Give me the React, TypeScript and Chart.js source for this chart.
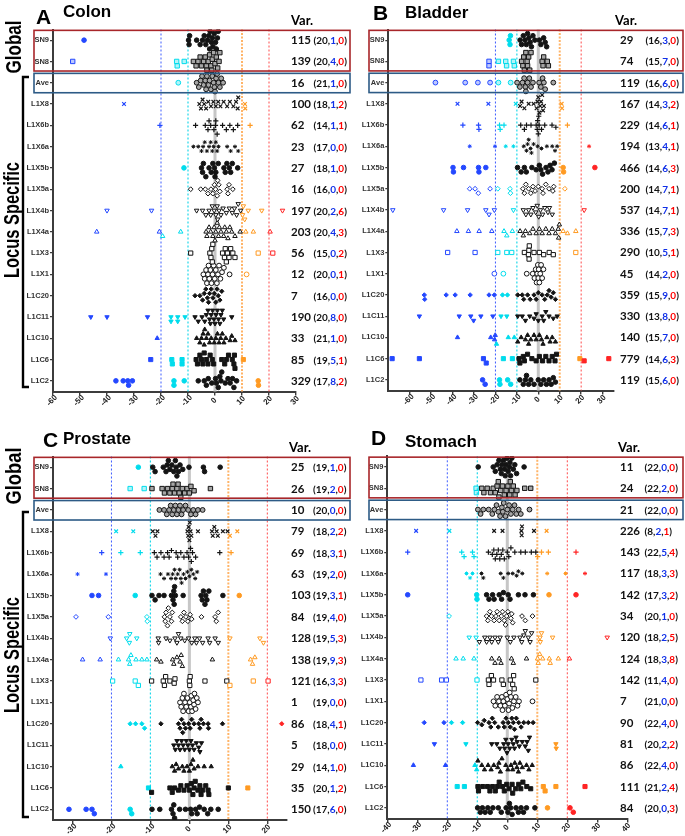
import React, { useEffect, useRef } from "react";
import { Chart, registerables } from "chart.js";
Chart.register(...registerables);

const rowLabels = ["SN9", "SN8", "Ave", "L1X8", "L1X6b", "L1X6a", "L1X5b", "L1X5a", "L1X4b", "L1X4a", "L1X3", "L1X1", "L1C20", "L1C11", "L1C10", "L1C6", "L1C2"];

const colonTicks = [-60, -50, -40, -30, -20, -10, 0, 10, 20, 30];
const bladderTicks = [-60, -50, -40, -30, -20, -10, 0, 10, 20, 30];
const prostateTicks = [-30, -20, -10, 0, 10, 20];
const stomachTicks = [-40, -30, -20, -10, 0, 10, 20, 30, 40];

const colonValues: number[][] = [
  [-48.5, -9.8, -9.6, -9.4, -6.8, -5.5, -4.6, -4, -3.4, -2.8, -2.3, -2, -1.8, -1.3, -1, -0.8, -0.3, 0.2, 0.5, 0.9, 1.2],
  [-52.7, -14.2, -14, -11.4, -8, -7, -6.3, -5.5, -5, -4.2, -3.6, -3.2, -3, -2.5, -2, -1.5, -1.2, -1, -0.5, 0, 0.5, 1, 1.5, 1.8],
  [-13.6, -6.8, -6, -5.3, -4.8, -4.2, -3.6, -3.3, -3, -2.4, -2, -1.5, -1, -0.5, -0.2, 0, 0.4, 0.8, 1.3, 1.8, 2.3, 3],
  [-33.7, -5.8, -5.2, -4.6, -4, -3.3, -2.5, -1.5, -0.6, 0.3, 1.2, 2, 3.2, 4.5, 5.5, 6.8, 7.8, 8.4, 8.6, 11.1, 11.2],
  [-20.4, -7.2, -3.6, -2.6, -2.2, -1.6, -0.4, 0.2, 0.3, 0.8, 2.8, 4.2, 5.5, 6.8, 8.4, 13],
  [-8, -6.2, -5, -4.4, -3.8, -3, -2.2, -1.6, -1, -0.5, 0.3, 0.8, 1.3, 4.5, 5.8, 7.4, 8.6],
  [-11.5, -5, -4.6, -4.3, -3.4, -2.2, -1.4, -0.8, -0.2, 0, 0.3, 1.2, 3.3, 3.8, 4.4, 5.3, 5.8, 6.4, 8.4],
  [-9, -5.3, -3.6, -2.6, -1.5, -0.8, -0.2, 0.2, 0.8, 1, 1.4, 1.8, 4.5, 4.8, 5.2, 6.6],
  [-40, -23.5, -6.8, -4.6, -3.4, -2.2, -1.6, -1, -0.3, 0.3, 0.8, 1, 1.5, 2.2, 3, 4.2, 5.3, 6.4, 7.2, 8, 8.6, 9.5, 10.2, 10.5, 11, 12.3, 17.3, 25],
  [-43.8, -20.6, -19.4, -12.7, -3.3, -3, -2.2, -1.6, -0.8, -0.3, 0, 0.3, 0.8, 1.3, 1.6, 2.2, 3.2, 3.6, 4.2, 4.8, 5.5, 6.2, 7.4, 9.3, 11.4, 14.2, 20.4],
  [-9, -1.9, -1.5, -1.2, -1, -0.8, 2.8, 3.5, 3.8, 4.2, 4.6, 5.2, 5.8, 6.6, 7.4, 16, 21.4],
  [-4.3, -3.8, -3.3, -3, -2.6, -2.4, -2.1, -1.7, -1.3, -0.9, -0.5, -0.1, 0.3, 0.7, 1.1, 1.5, 2, 2.6, 3.3, 5.4, 11.7],
  [-7.4, -5.6, -4.6, -4, -3.4, -2.8, -2.4, -2, -1.4, -0.8, -0.3, 0.3, 0.8, 1.2, 1.8, 2.5],
  [-46, -40, -25, -16.3, -16.3, -13.8, -13.8, -11.1, -7.4, -6.2, -4.8, -3.8, -3.2, -2.6, -2, -1.7, -1.4, -0.9, -0.4, 0, 0.4, 0.9, 1.3, 1.8, 2.2, 2.7, 3.2, 6.2],
  [-21.4, -6.8, -5.6, -5, -4.4, -4, -3.8, -3.2, -2.6, -2, -1.4, -0.3, 0.3, 0.9, 1.5, 2.1, 2.7, 3.3, 4, 5.6, 6.2, 7.4],
  [-23.8, -16, -15.8, -12.2, -12.2, -7, -6.5, -5.6, -5, -4.5, -4, -3.2, -2.6, -1.8, -1, -0.5, 2.5, 3.6, 4.2, 5, 6.4, 7, 7.2, 7.4, 10.5],
  [-36.7, -34, -32.3, -32, -30.6, -15.2, -15.2, -11.4, -6.2, -4, -3.2, -2.5, -1.2, 0.2, 0.5, 1.2, 1.8, 2.2, 2.5, 3.8, 4.8, 5.6, 6.5, 7, 8, 16, 16.1],
];
const colonVar = [115, 139, 16, 100, 62, 23, 27, 16, 197, 203, 56, 12, 7, 190, 33, 85, 329];
const colonCounts = [[20, 1, 0], [20, 4, 0], [21, 1, 0], [18, 1, 2], [14, 1, 1], [17, 0, 0], [18, 1, 0], [16, 0, 0], [20, 2, 6], [20, 4, 3], [15, 0, 2], [20, 0, 1], [16, 0, 0], [20, 8, 0], [21, 1, 0], [19, 5, 1], [17, 8, 2]];

const bladderValues: number[][] = [
  [-13.6, -13.2, -13, -8.5, -7.8, -7, -6.2, -5.6, -5, -4.4, -3.8, -3.2, -2.5, -1.6, 0.5, 1.2, 2.5, 3.2, 3.9],
  [-23, -23, -18.6, -15.2, -14.8, -11.6, -11.2, -7.8, -7.2, -6.8, -6.5, -5.8, -5.2, -5, -4.5, -4, -3.4, 1.8, 2.2, 2.5, 4.2, 4.7],
  [-48, -34.1, -28.2, -22.5, -18.6, -12.9, -9.9, -8.6, -7.4, -6.6, -6, -5.8, -5, -4.2, -3.4, -2.5, 0.4, 1.2, 2, 2.6, 3.2, 7],
  [-37.7, -23.3, -10.5, -8.5, -7.8, -6.5, -4.5, -2.2, -0.8, -0.4, 0, 0.5, 0.9, 1.3, 1.8, 2.2, 2.6, 10.9, 11.1],
  [-35.2, -27.9, -27.7, -18.1, -17.8, -16, -8.2, -6.5, -5.5, -3.4, -1, -0.5, -0.3, 0, 0.2, 0.4, 1.5, 3, 6.4, 8.2, 13.6],
  [-32, -20.2, -15.2, -11.6, -6.8, -5.5, -5, -4.5, -3.6, -3.2, -2.2, -0.3, 1.5, 4, 6.5, 7.8, 8.8, 23.7],
  [-39.8, -39.6, -34.9, -27.9, -27.7, -24.5, -9.7, -8, -6.5, -5.6, -3, -1, 0.5, 1.2, 2, 3.6, 4.5, 5.5, 6.4, 7.5, 11.6, 11.8, 26.4],
  [-32, -29.5, -28, -22.5, -18.9, -13.2, -13, -7.2, -6.5, -5.8, -4.5, -3.5, -2.5, -1.5, 0, 1.8, 2.2, 3.5, 5, 6.8, 7.2, 12.4],
  [-67.9, -44.2, -33, -24.5, -23, -20.5, -11.6, -7, -5.8, -4.5, -3.5, -2.5, -1.2, -0.5, 0.2, 1, 2, 3, 4.5, 5.2, 6.5, 21.4],
  [-38, -32.6, -27.6, -21.7, -16, -14.7, -12.1, -8.5, -7, -6, -4, -2.5, -1, 0.5, 1.8, 3.5, 5, 6.5, 8, 9.3, 9.5, 9.8, 11.6, 13.6, 17.5],
  [-42.3, -29.5, -18.9, -14.7, -12.4, -6.5, -4.6, -4.4, -4.3, -4.2, -2, 0.5, 2.5, 5.1, 7, 17.5],
  [-20.5, -16.3, -5.4, -2.6, -1.8, -1.2, -0.8, -0.5, -0.2, 0, 0.2, 0.5, 0.9, 1.3, 1.8, 2.4],
  [-53.2, -53, -43, -38.8, -31.8, -23, -20.5, -16.7, -14.4, -9.6, -7.5, -6.8, -5, -3.8, -2, -1, 0, 1.8, 3, 4.2, 5, 6, 7, 8],
  [-55.5, -36.9, -31.5, -30.2, -26.8, -21.2, -17.4, -14.7, -9.6, -7.5, -6, -4, -2, -1, 0, 1.8, 2.5, 3.5, 5, 7, 8.8],
  [-37.7, -22.2, -20.4, -20.1, -19.5, -14, -11.2, -9.6, -8, -6, -5, -4.5, -3.5, -2, -1, 0.5, 1.5, 2.2, 4, 5.5, 6.5, 8],
  [-68.2, -55.5, -25.6, -24.3, -16.3, -12.1, -9, -8.6, -7, -6.5, -5, -3, -1, 0.5, 2, 3.5, 5, 6.5, 7.8, 8.5, 19.4, 21.4, 32.9],
  [-26, -24.8, -18.1, -17.9, -14.3, -12.9, -8.6, -7, -6, -5.5, -4.5, -3.5, -2, 0, 1.2, 2.5, 3.8, 5, 6, 7, 8],
];
const bladderVar = [29, 74, 119, 167, 229, 194, 466, 200, 537, 336, 290, 45, 359, 330, 140, 779, 119];
const bladderCounts = [[16, 3, 0], [15, 7, 0], [16, 6, 0], [14, 3, 2], [14, 6, 1], [13, 4, 1], [14, 6, 3], [14, 7, 1], [14, 7, 1], [15, 7, 3], [10, 5, 1], [14, 2, 0], [15, 9, 0], [13, 8, 0], [15, 7, 0], [14, 6, 3], [15, 6, 0]];

const prostateValues: number[][] = [
  [-13.1, -9.4, -8.8, -6.7, -6, -5.7, -5.4, -5, -4.5, -4, -3.6, -3.4, -3.2, -2.8, -2.4, -1.7, -0.1, 3.6, 3.9, 7.9],
  [-15.2, -11.6, -9.6, -7, -6.4, -5.6, -5, -4.4, -4.2, -3.8, -3.2, -2.9, -2.6, -2.2, -1.8, -1.2, -0.6, 0, 0.4, 1.2, 5.4],
  [-7.7, -6.5, -5.8, -5.2, -4.8, -4.4, -4, -3.6, -3.2, -2.8, -2.4, -2, -1.6, -1, -0.3, 0.4, 1, 1.6, 2.2, 3.4],
  [-18.8, -14.4, -9.4, -8.7, -8.2, -0.5, -0.3, -0.2, 0, 0.1, 0.3, 0.5, 2.2, 5.8, 6, 6.4, 7, 7.3, 8.6, 9.8, 10.4, 12.3],
  [-22.5, -17.6, -12.6, -9, -8.3, -7.3, -6.5, -5.6, -5.2, -4.6, -3.4, -3, -2.2, -1.4, -0.6, -0.2, 0.3, 0.5, 0.8, 1.6, 7.8, 10.7],
  [-28.7, -21.4, -7.4, -6.5, -5.5, -4.7, -4.3, -3.8, -3.5, -3, -2.5, -2.2, -2, -1.5, -1, -0.5, 0, 0.5, 1, 1.5, 2],
  [-25, -23.3, -13.9, -9.6, -8.8, -7.8, -6.5, -4.6, -4.2, -4, -3.9, -3.8, -3.6, -1.6, 3, 3.3, 3.6, 4, 4.2, 4.5, 5, 8.6, 12.8],
  [-29.1, -20.8, -10.9, -10.8, -6.4, -6.2, -6, -5.6, -5.4, -5, -4.6, -4.4, -2.2, -1.8, -1.4, -0.9, -0.4, 0.2, 0.6, 3.1, 6.6, 6.9, 7.4],
  [-20.3, -16.1, -15.4, -15.3, -13.5, -8, -7.9, -6, -5, -3.7, -3.2, -2.8, -2.2, -1.2, -0.2, 0.6, 1.4, 1.8, 2.6, 3.4, 4.8, 5.2, 6.6, 7.4, 10.4, 18.1, 19],
  [-27.4, -22.9, -18.2, -15.6, -15.3, -15, -13.7, -12.2, -10.9, -8.4, -7.3, -4.3, -4, -3.2, -2.4, -2.1, -1.8, 5.9, 15.7, 16.2, 16.8],
  [-19.7, -13.9, -13.1, -9.7, -6.7, -6.4, -6.1, -5, -3.9, -3.7, 0, 0.1, 0.2, 4, 9.6, 10.4, 16.4, 20.2],
  [-2.4, -2.1, -1.8, -1.6, -1.4, -1.1, -0.8, -0.5, -0.2, 0.1, 0.4, 0.5, 0.7, 1, 1.2, 1.3, 1.6, 1.9, 2.2],
  [-15.2, -13.8, -12.2, -11.5, -7.3, -2.8, -2.4, -2, -1.7, -1.4, -1, -0.2, 0.2, 0.6, 1.2, 2.4, 2.7, 3, 3.6, 4.8, 4.9, 8.5, 23.7],
  [-4, -3.6, -3.2, -2.8, -2.4, -2, -1.6, -1.2, -0.8, -0.4, 0, 0.4, 0.8, 1.2, 1.8, 2.4, 2.7, 3.1],
  [-17.6, -4.4, -3.8, -3.4, -2.8, -1.8, -1.4, -0.6, 0, 0.4, 0.9, 1.2, 2.2, 3.8, 5.6],
  [-10.5, -9.7, -5, -4.4, -3.8, -2.8, -2.2, -1.4, -0.6, 0, 0.5, 0.9, 1.2, 1.5, 2.2, 2.7, 3, 3.4, 4.2, 4.8, 5, 10, 15],
  [-30.9, -26.5, -25, -24.4, -15.2, -14.8, -9.6, -7.6, -4.6, -4.2, -4, -3.8, -2.5, -1, 0.3, 0.6, 1.6, 2, 2.6, 3.8, 4.7, 5.5, 7.4],
];
const prostateVar = [25, 26, 10, 79, 69, 63, 103, 84, 128, 138, 121, 1, 86, 5, 29, 35, 150];
const prostateCounts = [[19, 1, 0], [19, 2, 0], [20, 0, 0], [18, 2, 2], [18, 3, 1], [19, 2, 0], [19, 3, 1], [19, 4, 0], [19, 5, 3], [19, 9, 3], [16, 3, 3], [19, 0, 0], [18, 4, 1], [18, 0, 0], [14, 1, 0], [20, 1, 2], [17, 6, 0]];

const stomachValues: number[][] = [
  [-9.7, -4.7, -4, -3.4, -2.8, -2.3, -2, -1.8, -1.3, -0.9, -0.7, -0.5, -0.1, 0.3, 0.7, 0.9, 1.1, 1.5, 2, 2.5, 3.1, 5.6],
  [-10.4, -10.3, -8.5, -7.8, -6.7, -5.6, -4.7, -4, -3.4, -3, -2.8, -2.2, -1.6, -1, -0.4, 0.2, 0.8, 1, 1.4, 2, 2.6, 3.2, 5.8, 7.8],
  [-9.8, -8.9, -8, -6.2, -5, -4.3, -3.6, -3, -2.4, -1.8, -1.5, -1.2, -0.6, 0, 0.6, 1.2, 1.8, 2.4, 3, 3.8, 4.5, 7.4],
  [-30.4, -19.3, -4.4, -1.6, 4.7, 4.8, 4.9, 8.9, 13.1],
  [-33.2, -15.2, -14.4, -11.6, -11.1, -6.3, -5, -4.5, -4, -3.5, -3, -2.5, -2, -1.5, -1, 0, 0.5, 1.2, 2.5, 4.5, 6, 8, 9.5, 10.1, 11.4, 13.7, 22.9],
  [-13.6, -12.4, -11.6, -8.6, -8, -2.2, -1.3, 0.3, 1.8, 3.1, 3.7, 5, 13.3, 19.4, 25.9],
  [-33.2, -10.2, -10.1, -6.9, -6.1, -4.9, -4.4, -2.7, -1.9, -1.3, 0.3, 0.9, 3.7, 5.9, 8.7, 13.9, 22.9],
  [-19.4, -6.9, -6.5, -5.8, -5.3, -4.4, -3.8, -3.4, -2.7, -2, -1.6, -1, -0.6, -0.2, 0.2, 1.2, 1.5, 1.8, 4.9, 6, 8.4],
  [-12.7, -10.4, -9.3, -7.5, -6.9, -5.8, -5.2, -4.1, -3, -2.4, 0, 1, 2.2, 4.2, 4.8, 5.5, 6, 7, 7.6, 8.1, 10.9, 11, 11.4, 15.1, 33.3],
  [-17.1, -14.7, -11.1, -5.2, -4.1, -2.7, -2.1, 1.4, 2, 6.4, 10.1, 10.3, 10.8, 11.8, 14, 14.3, 17, 20.7],
  [-28.8, -21.9, -20.3, -10.1, -6.3, -6.1, -5.3, -4.6, -1.8, -1.3, 1, 1.8, 2.1, 2.3, 9.5],
  [-4.6, -4, -3.4, -2.8, -2.3, -1.8, -1.6, -1.3, -0.8, -0.4, 0, 0.4, 0.6, 0.8, 1.2, 1.7, 2.2, 2.8, 3.4, 3.9, 8.4],
  [-27.7, -21.1, -18.6, -14.9, -9.9, -8.5, -7.7, -6.1, -5.5, -5, -4.2, -3, -1.4, -1, -0.4, 0.3, 1, 1.5, 2, 2.4, 3, 3.8, 4.6, 5.5, 7, 8.6],
  [-24.3, -13.8, -5.2, -3.5, -2.5, -1.2, -0.9, -0.5, -0.1, 0.3, 0.8, 1.5, 2, 2.4, 2.9, 3.3, 4, 5, 6, 6.6, 7, 7.4, 16.2, 16.3],
  [-31.3, -20.6, -10.8, -10.2, -9.8, -8.5, -7.6, -6.4, -5.4, -4.5, -3.2, -2.8, -2.3, -1.8, -0.5, 0.2, 1.2, 1.8, 2.5, 3.2, 3.7, 4.2, 5, 6.4, 7.2, 8.3],
  [-16.7, -14.3, -9.8, -9.6, -8.2, -6.6, -5.8, -4.9, -4, -3.3, -2.7, -1.6, -1, -0.2, 0.6, 1.6, 1.8, 2.8, 3.8, 4.5, 5.2, 6.5, 7.8, 12, 12.6, 16.2, 25.9],
  [-9.9, -9, -8.3, -7.4, -6.5, -5.7, -4.8, -3, -2, -0.4, 0.2, 0.7, 1.1, 1.6, 2.9, 3.7, 4.6, 5.4, 6.4, 9.2, 13.4, 20.9, 22],
];
const stomachVar = [11, 24, 21, 226, 143, 117, 142, 34, 120, 124, 142, 7, 90, 81, 86, 111, 84];
const stomachCounts = [[22, 0, 0], [22, 2, 0], [22, 0, 0], [8, 2, 1], [22, 5, 4], [18, 3, 3], [17, 3, 2], [20, 1, 0], [18, 2, 5], [18, 3, 8], [11, 4, 0], [21, 0, 0], [22, 4, 0], [20, 2, 2], [22, 4, 0], [21, 2, 4], [20, 0, 3]];

// ---------- styling ----------
const C_BLACK = "#141414";
const C_CYAN = "#00dcec";
const C_BLUE = "#2448ff";
const C_ORANGE = "#ff9a22";
const C_RED = "#ff2424";
const T_BLUE = "#1030e8";
const T_RED = "#ff0000";
const AXIS = "#3c3c3c";
const SANS = '"Liberation Sans", Arial, sans-serif';
const NUMF = 'Lato, "Liberation Sans", sans-serif';

const colorFor = (x: number) => (x < -20 ? C_BLUE : x < -10 ? C_CYAN : x <= 10 ? C_BLACK : x <= 20 ? C_ORANGE : C_RED);
const tint = (c: string) => {
  if (c === C_BLACK) return "#a6a6a6";
  const r = parseInt(c.slice(1, 3), 16), g = parseInt(c.slice(3, 5), 16), b = parseInt(c.slice(5, 7), 16);
  return `rgba(${r},${g},${b},0.3)`;
};

type RowStyle = { shape: string; rot?: number; fill: "solid" | "grey" | "open" | "line"; r: number; bw: number };
const rowStyles: RowStyle[] = [
  { shape: "circle", fill: "solid", r: 2.3, bw: 1 },
  { shape: "rect", fill: "grey", r: 3.1, bw: 1 },
  { shape: "circle", fill: "grey", r: 2.4, bw: 1 },
  { shape: "crossRot", fill: "line", r: 2.6, bw: 1.2 },
  { shape: "cross", fill: "line", r: 2.6, bw: 1.2 },
  { shape: "star", fill: "line", r: 2, bw: 1 },
  { shape: "circle", fill: "solid", r: 2.3, bw: 1 },
  { shape: "rectRot", fill: "open", r: 2.4, bw: 1 },
  { shape: "triangle", rot: 180, fill: "open", r: 2.6, bw: 1 },
  { shape: "triangle", fill: "open", r: 2.6, bw: 1 },
  { shape: "rect", fill: "open", r: 3, bw: 1 },
  { shape: "circle", fill: "open", r: 2.4, bw: 1 },
  { shape: "rectRot", fill: "solid", r: 2.2, bw: 1 },
  { shape: "triangle", rot: 180, fill: "solid", r: 2.5, bw: 1 },
  { shape: "triangle", fill: "solid", r: 2.5, bw: 1 },
  { shape: "rect", fill: "solid", r: 2.9, bw: 1 },
  { shape: "circle", fill: "solid", r: 2.3, bw: 1 },
];

const refLines = [
  { v: -20, color: "#3d5cff", dash: [2, 2], w: 1 },
  { v: -10, color: "#1ed8ea", dash: [2, 2], w: 1.2 },
  { v: 0, color: "#c6c6c6", dash: [] as number[], w: 3 },
  { v: 10, color: "#ffb468", dash: [2, 1.5], w: 2 },
  { v: 20, color: "#ff4a4a", dash: [2, 2], w: 1 },
];

type Panel = {
  letter: string; title: string; values: number[][]; vars: number[]; counts: number[][]; ticks: number[];
  left: number; top: number; width: number; height: number;
  area: { l: number; r: number; t: number; b: number }; xMin: number; xMax: number;
  letterPos: [number, number]; titlePos: [number, number]; varHead: [number, number];
  numX: number; parenX: number; boxX: [number, number];
  side?: { globalY: number; globalLen: number; locusY: number; locusLen: number; brTop: number; brBot: number };
};

const panels: Panel[] = [
  {
    letter: "A", title: "Colon", values: colonValues, vars: colonVar, counts: colonCounts, ticks: colonTicks,
    left: 0, top: 0, width: 356, height: 415, area: { l: 53, r: 296, t: 29.5, b: 391.5 }, xMin: -60, xMax: 30,
    letterPos: [36, 24], titlePos: [63, 17], varHead: [291, 25], numX: 291, parenX: 313.5, boxX: [34, 350],
    side: { globalY: 47, globalLen: 53, locusY: 220, locusLen: 116, brTop: 77, brBot: 387 },
  },
  {
    letter: "B", title: "Bladder", values: bladderValues, vars: bladderVar, counts: bladderCounts, ticks: bladderTicks,
    left: 340, top: 0, width: 345, height: 415, area: { l: 48.3, r: 273.3, t: 29.5, b: 390.5 }, xMin: -70, xMax: 35,
    letterPos: [373, 20], titlePos: [405, 18], varHead: [615, 25], numX: 620, parenX: 645.5, boxX: [369, 683],
  },
  {
    letter: "C", title: "Prostate", values: prostateValues, vars: prostateVar, counts: prostateCounts, ticks: prostateTicks,
    left: 0, top: 415, width: 356, height: 421, area: { l: 53, r: 286.8, t: 41.5, b: 405 }, xMin: -35, xMax: 25,
    letterPos: [43, 447], titlePos: [63, 444], varHead: [289, 452], numX: 291, parenX: 313, boxX: [34, 350],
    side: { globalY: 476, globalLen: 57, locusY: 655, locusLen: 116, brTop: 512, brBot: 817 },
  },
  {
    letter: "D", title: "Stomach", values: stomachValues, vars: stomachVar, counts: stomachCounts, ticks: stomachTicks,
    left: 340, top: 415, width: 345, height: 421, area: { l: 47.3, r: 287.3, t: 41.3, b: 403.5 }, xMin: -40, xMax: 40,
    letterPos: [371, 445], titlePos: [405, 447], varHead: [618, 452], numX: 620, parenX: 644.5, boxX: [369, 683],
  },
];

const Y_W = 30;
const X_H = 12;

// beeswarm placement (vertical offsets only, in pixels), values unchanged
function swarm(values: number[], pxPerUnit: number): number[] {
  const diam = 4.4, step = 2.2, maxOff = 8.8;
  const order = values.map((v, i) => ({ v, i })).sort((a, b) => a.v - b.v);
  const placed: { px: number; py: number }[] = [];
  const out = new Array(values.length).fill(0);
  const cands = [0];
  for (let k = 1; k * step <= maxOff + 0.01; k++) cands.push(k * step, -k * step);
  for (const { v, i } of order) {
    const px = v * pxPerUnit;
    let best = 0, bestOv = Infinity;
    for (const c of cands) {
      let ov = 0;
      for (const p of placed) {
        if (Math.abs(p.px - px) >= diam) continue;
        const d = Math.hypot(p.px - px, p.py - c);
        if (d < diam) ov += diam - d;
      }
      if (ov === 0) { best = c; bestOv = 0; break; }
      if (ov < bestOv) { bestOv = ov; best = c; }
    }
    placed.push({ px, py: best });
    out[i] = best;
  }
  return out;
}

function drawRotText(ctx: CanvasRenderingContext2D, text: string, cx: number, cy: number, font: string, len: number) {
  ctx.save();
  ctx.font = font;
  const w = ctx.measureText(text).width;
  ctx.translate(cx, cy);
  ctx.rotate(-Math.PI / 2);
  ctx.scale(len / w, 1);
  ctx.textAlign = "center";
  ctx.textBaseline = "alphabetic";
  ctx.fillStyle = "#000";
  ctx.fillText(text, 0, 0);
  ctx.restore();
}

function makeChart(canvas: HTMLCanvasElement, p: Panel) {
  const pxPerUnit = (p.area.r - p.area.l) / (p.xMax - p.xMin);
  const rowPx = (p.area.b - p.area.t) / 17;
  const datasets = rowLabels.map((lab, r) => {
    const st = rowStyles[r];
    const vals = p.values[r];
    const offs = swarm(vals, pxPerUnit);
    const data = vals.map((v, i) => ({ x: v, y: r + offs[i] / rowPx }));
    return {
      label: lab,
      data,
      showLine: false,
      pointStyle: st.shape as any,
      pointRotation: st.rot || 0,
      pointRadius: st.r,
      pointHoverRadius: st.r,
      pointBorderWidth: st.bw,
      pointBorderColor: (ctx: any) => (ctx.raw ? colorFor(ctx.raw.x) : C_BLACK),
      pointBackgroundColor: (ctx: any) => {
        const c = ctx.raw ? colorFor(ctx.raw.x) : C_BLACK;
        if (st.fill === "solid" || st.fill === "line") return c;
        if (st.fill === "grey") return tint(c);
        return "#ffffff";
      },
    };
  });

  const deco = {
    id: "deco",
    beforeDatasetsDraw(chart: any) {
      const { ctx, chartArea, scales } = chart;
      ctx.save();
      for (const l of refLines) {
        const x = scales.x.getPixelForValue(l.v);
        ctx.beginPath();
        ctx.strokeStyle = l.color;
        ctx.lineWidth = l.w;
        ctx.setLineDash(l.dash);
        ctx.moveTo(x, chartArea.top);
        ctx.lineTo(x, chartArea.bottom);
        ctx.stroke();
      }
      ctx.restore();
    },
    afterDraw(chart: any) {
      const { ctx, scales, chartArea } = chart;
      const ys = scales.y, xs = scales.x;
      ctx.save();
      // x tick labels (rotated)
      ctx.font = `bold 8px ${SANS}`;
      ctx.fillStyle = "#222";
      for (const v of p.ticks) {
        const tx = xs.getPixelForValue(v);
        ctx.save();
        ctx.translate(tx - 1, chartArea.bottom + 9);
        ctx.rotate(-Math.PI / 4);
        ctx.textAlign = "center";
        ctx.textBaseline = "middle";
        ctx.fillText(String(v), 0, 0);
        ctx.restore();
      }
      // switch to page coordinates
      ctx.translate(-p.left, -p.top);
      const rowY = (i: number) => ys.getPixelForValue(i) + p.top;
      ctx.fillStyle = "#000";
      ctx.textAlign = "left";
      ctx.textBaseline = "alphabetic";
      ctx.font = `bold 21px ${SANS}`;
      ctx.fillText(p.letter, p.letterPos[0], p.letterPos[1]);
      ctx.font = `bold 17px ${SANS}`;
      ctx.fillText(p.title, p.titlePos[0], p.titlePos[1]);
      ctx.font = `bold 13px ${NUMF}`;
      ctx.fillText("Var.", p.varHead[0], p.varHead[1]);
      // var column
      for (let i = 0; i < rowLabels.length; i++) {
        const y = rowY(i) + 4;
        ctx.font = `bold 11.5px ${NUMF}`;
        ctx.fillStyle = "#111";
        ctx.fillText(String(p.vars[i]), p.numX, y);
        ctx.font = `bold 10px ${NUMF}`;
        const c = p.counts[i];
        const parts: [string, string][] = [["(", "#111"], [String(c[0]), "#111"], [",", "#111"], [String(c[1]), T_BLUE], [",", "#111"], [String(c[2]), T_RED], [")", "#111"]];
        let cx = p.parenX;
        for (const [t, col] of parts) {
          ctx.fillStyle = col;
          ctx.fillText(t, cx, y);
          cx += ctx.measureText(t).width;
        }
      }
      // boxes
      const rowH = ys.getPixelForValue(1) - ys.getPixelForValue(0);
      const y0 = rowY(0);
      ctx.lineWidth = 1.6;
      ctx.setLineDash([]);
      ctx.strokeStyle = "#a8262a";
      ctx.strokeRect(p.boxX[0], y0 - 0.46 * rowH, p.boxX[1] - p.boxX[0], 1.91 * rowH);
      ctx.strokeStyle = "#2d5b86";
      ctx.strokeRect(p.boxX[0], y0 + 1.56 * rowH, p.boxX[1] - p.boxX[0], 0.91 * rowH);
      // side labels
      if (p.side) {
        const s = p.side;
        drawRotText(ctx, "Global", 21, s.globalY, `bold 22px ${SANS}`, s.globalLen);
        drawRotText(ctx, "Locus Specific", 19, s.locusY, `bold 22px ${SANS}`, s.locusLen);
        ctx.strokeStyle = "#000";
        ctx.lineWidth = 2.4;
        ctx.beginPath();
        ctx.moveTo(29, s.brTop);
        ctx.lineTo(23, s.brTop);
        ctx.lineTo(23, s.brBot);
        ctx.lineTo(29, s.brBot);
        ctx.stroke();
      }
      ctx.restore();
    },
  };

  return new Chart(canvas, {
    type: "scatter",
    data: { datasets: datasets as any },
    plugins: [deco],
    options: {
      animation: false,
      responsive: false,
      maintainAspectRatio: false,
      events: [],
      layout: {
        padding: {
          left: p.area.l - Y_W,
          right: p.width - p.area.r,
          top: p.area.t,
          bottom: p.height - p.area.b - X_H,
        },
      },
      plugins: { legend: { display: false }, tooltip: { enabled: false } },
      scales: {
        x: {
          type: "linear",
          min: p.xMin,
          max: p.xMax,
          afterFit: (s: any) => { s.height = X_H; },
          afterBuildTicks: (s: any) => { s.ticks = p.ticks.map((v) => ({ value: v })); },
          ticks: { display: false },
          grid: { display: true, drawOnChartArea: false, drawTicks: true, tickLength: 4, color: AXIS, lineWidth: 1.4 },
          border: { display: true, color: AXIS, width: 2 },
        },
        y: {
          type: "linear",
          min: -0.5,
          max: 16.5,
          reverse: true,
          afterFit: (s: any) => { s.width = Y_W; },
          afterBuildTicks: (s: any) => { s.ticks = rowLabels.map((_, i) => ({ value: i })); },
          ticks: {
            autoSkip: false,
            padding: 1,
            color: "#333",
            font: { family: SANS, size: 7.5, weight: "bold" },
            callback: (v: any) => rowLabels[v as number] ?? "",
          },
          grid: { display: true, drawOnChartArea: false, drawTicks: true, tickLength: 3, color: AXIS, lineWidth: 1.2 },
          border: { display: true, color: AXIS, width: 2 },
        },
      },
    } as any,
  });
}

function PanelChart({ p }: { p: Panel }) {
  const ref = useRef<HTMLCanvasElement>(null);
  useEffect(() => {
    const chart = makeChart(ref.current as HTMLCanvasElement, p);
    return () => chart.destroy();
  }, [p]);
  return (
    <canvas
      ref={ref}
      width={p.width}
      height={p.height}
      style={{ position: "absolute", left: p.left, top: p.top, width: p.width, height: p.height }}
    />
  );
}

export default function App() {
  return (
    <div style={{ position: "absolute", left: 0, top: 0, width: 685, height: 836, background: "#fff", overflow: "hidden" }}>
      {panels.map((p) => (
        <PanelChart key={p.letter} p={p} />
      ))}
    </div>
  );
}
